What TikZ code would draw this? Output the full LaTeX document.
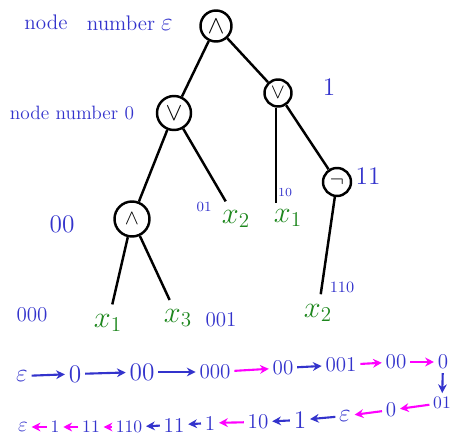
\documentclass[tikz,border=0pt]{standalone}
\usepackage{xcolor}
\usetikzlibrary{arrows.meta, positioning}
\definecolor{penblue}{RGB}{51,51,204}
\definecolor{pengreen}{RGB}{30,135,30}
\definecolor{penpink}{RGB}{255,0,255}

\begin{document}
\begin{tikzpicture}[
			x=0.02cm, y=-0.02cm,
			op/.style={circle, draw=black, line width=1.4pt, minimum size=0.62cm, inner sep=0pt, font=\Large},
			leaf/.style={text=pengreen, font=\LARGE, inner sep=0.5pt},
			lbl/.style={text=penblue, font=\Large, inner sep=1pt},
			small/.style={text=penblue, font=\footnotesize, inner sep=0.5pt},
			word/.style={text=penblue, font=\Large, inner sep=0.5pt},
			edge/.style={line width=1.4pt},
			leafedge/.style={line width=1.4pt, shorten >=5pt},
			bluearrow/.style={draw=penblue, line width=1.2pt, -{Stealth[length=5pt,width=5pt]}, shorten <=1.5pt, shorten >=1.5pt},
			pinkarrow/.style={draw=penpink, line width=1.2pt, -{Stealth[length=5pt,width=5pt]}, shorten <=1.5pt, shorten >=1.5pt}
			]
			\useasboundingbox (0,0) rectangle (453,435);
			
			% Operatoren
			\node (root) [op] at (216,26) {$\wedge$};
			\node (n0) [op, minimum size=0.68cm] at (174,113) {$\vee$};
			\node (n1) [op, minimum size=0.54cm, font=\large] at (278,93) {$\vee$};
			\node (n00) [op, minimum size=0.7cm, font=\large] at (132,219) {$\wedge$};
			\node (n11) [op, minimum size=0.56cm, font=\large] at (337,182) {$\neg$};
			
			% Blaetter
			\node (x01) [leaf] at (236,219) {$x_2$};
			\node (x10) [leaf] at (288,218) {$x_1$};
			\node (x000) [leaf] at (108,323) {$x_1$};
			\node (x001) [leaf] at (178,318) {$x_3$};
			\node (x110) [leaf] at (318,313) {$x_2$};
			
			% Knotennummern
			\node (tnode) [lbl, font=\large] at (46,22) {node};
			\node (tnum) [lbl, font=\large] at (121,23) {number};
			\node (teps) [lbl] at (167,25) {$\varepsilon$};
			\node (tzero) [word, font=\fontsize{11}{13}\selectfont] at (72,113) {node number 0};
			\node (tone) [lbl] at (329,87) {1};
			\node (toneone) [lbl] at (368,176) {11};
			\node (tzz) [lbl] at (62,224) {00};
			\node (tzo) [small] at (204,207) {01};
			\node (toz) [small, font=\scriptsize] at (285,193) {10};
			\node (tzzz) [word, font=\large] at (32,315) {000};
			\node (tzzo) [word, font=\large] at (221,320) {001};
			\node (tooz) [small, font=\small] at (342,287) {110};
			
			% Kanten
			\draw [edge] (root) -- (n0);
			\draw [edge] (root) -- (n1);
			\draw [edge] (n0) -- (n00);
			\draw [leafedge] (n0) -- (x01);
			\draw [edge] (n1.262) -- ++(0,95);
			\draw [edge] (n1) -- (n11);
			\draw [leafedge] (n11) -- (x110);
			\draw [leafedge] (n00) -- (x000);
			\draw [leafedge] (n00) -- (x001);
			
			% Reihenfolge oben
			\node (a1) [word] at (22,376) {$\varepsilon$};
			\node (a2) [word] at (75,374) {0};
			\node (a3) [word] at (142,372) {00};
			\node (a4) [word, font=\large] at (215,372) {000};
			\node (a5) [word, font=\large] at (283,368) {00};
			\node (a6) [word, font=\large] at (341,365) {001};
			\node (a7) [word, font=\large] at (396,362) {00};
			\node (a8) [word, font=\large] at (443,362) {0};
			\node (a9) [word, font=\normalsize] at (442,403) {01};
			
			% Reihenfolge unten
			\node (b1) [word, font=\large] at (391,410) {0};
			\node (b2) [word] at (345,416) {$\varepsilon$};
			\node (b3) [word] at (300,420) {1};
			\node (b4) [word, font=\large] at (258,422) {10};
			\node (b5) [word, font=\large] at (210,423) {1};
			\node (b6) [word, font=\large] at (174,425) {11};
			\node (b7) [word, font=\normalsize] at (129,427) {110};
			\node (b8) [word, font=\normalsize] at (91,427) {11};
			\node (b9) [word, font=\normalsize] at (55,427) {1};
			\node (b10) [word, font=\large] at (23,427) {$\varepsilon$};
			
			% Pfeile
			\draw [bluearrow] (a1) -- (a2);
			\draw [bluearrow] (a2) -- (a3);
			\draw [bluearrow] (a3) -- (a4);
			\draw [pinkarrow] (a4) -- (a5);
			\draw [bluearrow] (a5) -- (a6);
			\draw [pinkarrow] (a6) -- (a7);
			\draw [pinkarrow] (a7) -- (a8);
			\draw [bluearrow] (a8) -- (a9);
			\draw [pinkarrow] (a9) -- (b1);
			\draw [pinkarrow] (b1) -- (b2);
			\draw [bluearrow] (b2) -- (b3);
			\draw [bluearrow] (b3) -- (b4);
			\draw [pinkarrow] (b4) -- (b5);
			\draw [bluearrow] (b5) -- (b6);
			\draw [bluearrow] (b6) -- (b7);
			\draw [pinkarrow] (b7) -- (b8);
			\draw [pinkarrow] (b8) -- (b9);
			\draw [pinkarrow] (b9) -- (b10);
			
		\end{tikzpicture}
\end{document}
